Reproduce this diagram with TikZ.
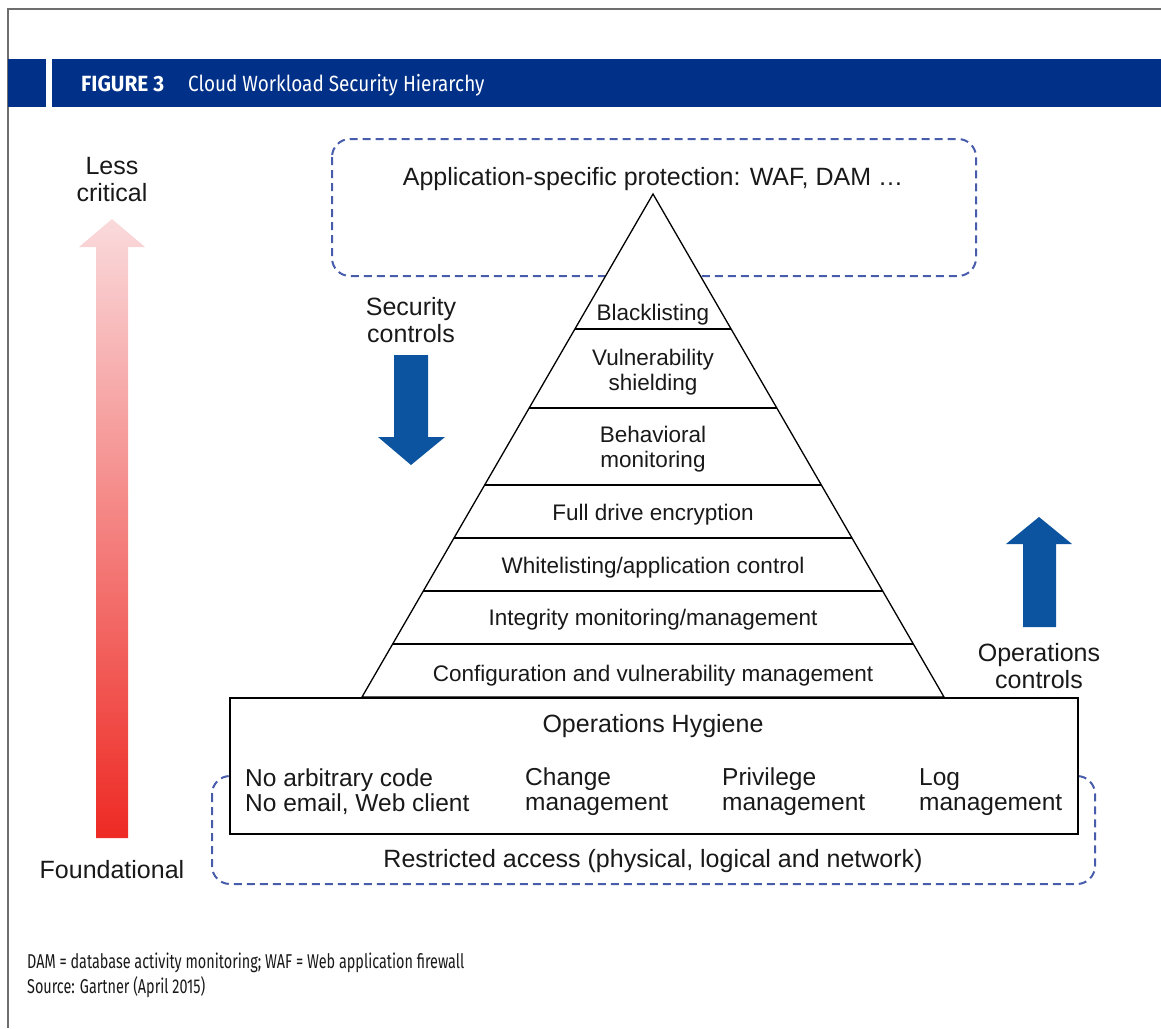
\documentclass[tikz,border=0pt]{standalone}
\usepackage{fontspec}
\setmainfont{Liberation Sans}
\newfontfamily\hdr[FakeStretch=0.72]{Fira Sans}
\newfontfamily\hdrT[FakeStretch=0.86]{Fira Sans}
\newfontfamily\hdrB[FakeStretch=0.95]{Fira Sans}
\definecolor{hdrblue}{RGB}{0,48,135}
\definecolor{arrblue}{RGB}{12,84,160}
\definecolor{dashblue}{RGB}{72,92,172}
\definecolor{framegray}{RGB}{110,110,110}
\definecolor{pinktop}{RGB}{250,218,220}
\definecolor{redbot}{RGB}{238,42,36}
\definecolor{txt}{RGB}{25,25,25}
\begin{document}
\begin{tikzpicture}[x=1pt,y=-1pt,
  big/.style={font=\fontsize{25}{27}\selectfont, align=center, inner sep=0pt, text=txt},
  lvl/.style={font=\fontsize{22.5}{24.5}\selectfont, align=center, inner sep=0pt, text=txt},
  item/.style={font=\fontsize{24.5}{25}\selectfont, align=left, inner sep=0pt, anchor=west, text=txt},
  dashbox/.style={draw=dashblue, line width=2pt, dash pattern=on 8pt off 5pt, rounded corners=18pt},
  foot/.style={font=\hdr\fontsize{20}{22}\selectfont, anchor=base west, inner sep=0pt, text=txt},
  bluearrow/.style={fill=arrblue}]
\useasboundingbox (0,0) rectangle (1161,1028);
% frame
\draw[framegray, line width=1.5pt] (8,1028) -- (8,9) -- (1161,9);
% header
\fill[hdrblue] (8,59) rectangle (46,107);
\fill[hdrblue] (52,59) rectangle (1161,107);
\node[anchor=base west, inner sep=0pt, text=white, font=\hdrB\bfseries\fontsize{22}{24}\selectfont] (fig) at (81,91) {FIGURE 3};
\node[anchor=base west, inner sep=0pt, text=white, font=\hdrT\fontsize{22}{24}\selectfont] (title) at (188,91) {Cloud Workload Security Hierarchy};
% red gradient arrow
\shade[top color=pinktop, bottom color=redbot] (96,838) -- (96,247) -- (79,247) -- (112,219) -- (145,247) -- (128,247) -- (128,838) -- cycle;
\node[big] (less) at (112,180) {Less\\critical};
\node[big] (found) at (112,870) {Foundational};
% top dashed box
\draw[dashbox] (332,139) rectangle (976,276);
\node[big] (app) at (653,179) {Application-specific protection: WAF, DAM …};
% bottom dashed box
\draw[dashbox] (212,776) rectangle (1095,884);
% pyramid
\draw[fill=white, line width=1.3pt, line join=miter] (653,194) -- (944,697) -- (362,697) -- cycle;
\foreach \yy in {329,408,485,538,591,644}
  \draw[line width=1.3pt] ({653-(\yy-194)*0.5785},\yy) -- ({653+(\yy-194)*0.5785},\yy);
\node[lvl] (l1) at (653,315) {Blacklisting};
\node[lvl] (l2) at (653,372) {Vulnerability\\shielding};
\node[lvl] (l3) at (653,449) {Behavioral\\monitoring};
\node[lvl] (l4) at (653,515) {Full drive encryption};
\node[lvl] (l5) at (653,568) {Whitelisting/application control};
\node[lvl] (l6) at (653,620) {Integrity monitoring/management};
\node[lvl] (l7) at (653,676) {Configuration and vulnerability management};
% hygiene box
\draw[fill=white, line width=1.5pt] (230,698) rectangle (1078,834);
\node[big] (hyg) at (653,726) {Operations Hygiene};
\node[item] (i1) at (245,792) {No arbitrary code\\No email, Web client};
\node[item] (i2) at (525,792) {Change\\management};
\node[item] (i3) at (722,792) {Privilege\\management};
\node[item] (i4) at (919,792) {Log\\management};
\node[big] (restr) at (653,861) {Restricted access (physical, logical and network)};
% blue arrows
\fill[bluearrow] (394,355) -- (428,355) -- (428,437) -- (445,437) -- (411,465) -- (378,437) -- (394,437) -- cycle;
\node[big] (sec) at (411,320) {Security\\controls};
\fill[bluearrow] (1023,627) -- (1023,544) -- (1006,544) -- (1039,517) -- (1072,544) -- (1056,544) -- (1056,627) -- cycle;
\node[big] (ops) at (1039,666) {Operations\\controls};
% footnotes
\node[foot] (f1) at (27,968) {DAM = database activity monitoring; WAF = Web application firewall};
\node[foot] (f2) at (27,993) {Source: Gartner (April 2015)};
\end{tikzpicture}
\end{document}
